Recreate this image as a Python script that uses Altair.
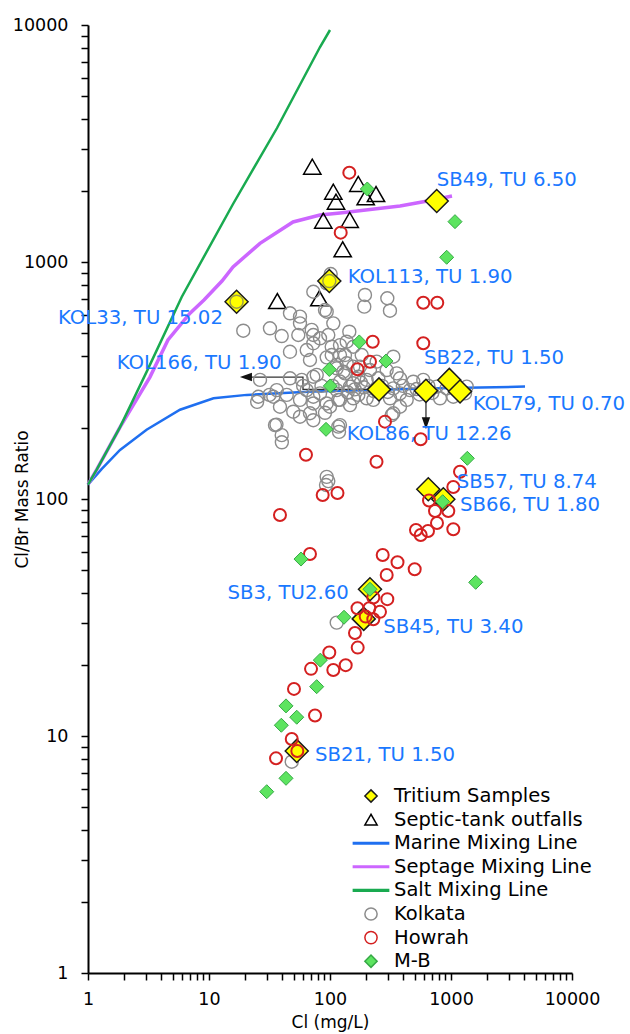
import altair as alt
import pandas as pd

FONT = "DejaVu Sans"
BLUE_TXT = "#1a78ff"

# ---------------- mixing lines (Cl mg/L, Cl/Br) ----------------
marine_cl = [1, 1.3, 1.84, 3.05, 5.76, 10.9, 20.5, 72.8, 300, 1000, 4090]
marine_ratio = [115, 134, 161, 196, 238, 266, 275, 284, 290, 294, 298]

septage_cl = [1, 1.18, 1.84, 3.25, 4.58, 6.97, 9.09, 12.8, 15.8, 26.4, 49.5, 82.7, 121, 379, 710, 1019]
septage_ratio = [115, 133, 201, 327, 469, 608, 691, 831, 953, 1199, 1475, 1578, 1610, 1723, 1827, 1899]

salt_cl = [1, 1.18, 1.84, 3.05, 5.95, 15.8, 36.5, 82.7, 100]
salt_ratio = [115, 133, 201, 344, 712, 1757, 3676, 8075, 9526]

# ---------------- tritium samples ----------------
tritium_cl = [16.9, 98.7, 762, 254, 621, 968, 1187, 649, 864, 214, 190, 53.1]
tritium_ratio = [680, 831, 1808, 290, 286, 318, 284, 110, 99.7, 41.6, 31.2, 8.65]

label_text = ["KOL33, TU 15.02", "KOL113, TU 1.90", "SB49, TU 6.50", "KOL166, TU 1.90",
              "KOL86, TU 12.26", "SB22, TU 1.50", "KOL79, TU 0.70", "SB57, TU 8.74",
              "SB66, TU 1.80", "SB3, TU2.60", "SB45, TU 3.40", "SB21, TU 1.50"]
label_cl = [0.565, 140, 762, 1.726, 137.4, 598, 1511, 1115, 1187, 14.2, 275.8, 75.2]
label_ratio = [580, 867, 2218, 374, 187.5, 392, 251.8, 118.3, 94.3, 40.0, 28.9, 8.32]

# arrows attached to KOL166 (left) and KOL86 (down)
arrow_left_cl = [254, 59.8, 59.8, 21.5]
arrow_left_ratio = [290, 290, 327, 327]
arrow_down_cl = [621, 621]
arrow_down_ratio = [286, 218]
head_left_cl = [20.2]
head_left_ratio = [327]
head_down_cl = [621]
head_down_ratio = [209]

# ---------------- septic-tank outfalls ----------------
septic_cl = [71.4, 106.5, 112.1, 171.3, 197.2, 240, 88.0, 145.5, 127.3, 36.7, 81.6]
septic_ratio = [2525, 1980, 1796, 2134, 1875, 1936, 1494, 1504, 1131, 684, 703]

# ---------------- M-B ----------------
mb_cl = [203.3, 1079, 921, 174.6, 98.7, 100.6, 92.7, 290, 1364, 854, 57.6, 1600, 214,
         130.6, 83.2, 77.6, 43.3, 53.1, 39.6, 43.3, 30.0]
mb_ratio = [2033, 1480, 1047, 460, 352, 300, 196.8, 382, 148.5, 97.4, 55.8, 44.5, 41.6,
            31.7, 20.9, 16.15, 13.4, 12.0, 11.1, 6.63, 5.82]

# ---------------- Howrah ----------------
howrah_cl = [144.4, 122.6, 590, 770, 225.4, 590, 214, 168.8, 284.7, 561.8, 63.3, 242.3,
             1187, 1045, 87.0, 115.3, 38.6, 658, 737.6, 950, 766, 513.6, 561.8, 645.5,
             1045, 68.3, 272.6, 361.3, 501, 294.1, 297.6, 228, 168.8, 211.3, 258.9, 197.2,
             228, 160.9, 169.4, 98.7, 69.7, 106.5, 134.8, 50.4, 75.2, 48.3, 53.7, 35.8]
howrah_ratio = [2382, 1330, 673, 673, 461, 454, 379.6, 352.7, 212, 178.6, 153.8, 143.7,
                130.4, 112.4, 104.0, 106.0, 85.6, 98.6, 89.0, 89.0, 79.2, 74.0, 70.5, 73.3,
                74.5, 58.6, 58.0, 54.1, 50.5, 47.8, 37.8, 38.4, 34.6, 34.6, 33.4, 31.9,
                31.1, 27.2, 23.6, 22.5, 19.2, 19.0, 19.9, 15.8, 12.2, 9.71, 8.64, 8.05]

# ---------------- Kolkata ----------------
kolkata_cl = [101.3, 93.9, 72.8, 90.9, 194.6, 192, 297.6, 313, 46.7, 56.5, 93.9, 31.9,
              19.2, 39.9, 56.5, 54.7, 72.8, 72.8, 106.5, 96.8, 144.4, 137.4, 103.3, 46.7,
              68.3, 93.9, 120.9, 137.4, 113.6, 133, 177, 201, 155.8, 120.9, 72.8, 58.4,
              46.7, 36.3, 26.4, 25.6, 34.0, 43.9, 56.5, 72.8, 93.9, 117.1, 155.8, 201,
              38.6, 49.7, 68.3, 90.9, 56.5, 72.8, 117.1, 35.1, 39.9, 93.9, 96.8, 70.6,
              82.7, 120.9, 155.8, 64.2, 103.3, 133, 182.8, 333.6, 243, 113.6, 155.8, 214,
              294, 356, 128.8, 77.7, 171.3, 250.7, 378.8, 488, 590, 762, 921, 458, 378.8,
              333.6, 146.3, 113.6, 82.7, 64.2, 171.3, 228, 313, 430.5, 811, 1045, 1305,
              1349, 120.9, 72.8, 100, 146.3, 333.6, 378.8, 120.9, 323.6, 92.7, 25, 31.6,
              36.1, 40, 118.7, 113.6, 48.3,
              105, 160, 190, 270, 400, 520, 650, 700, 230, 140, 180, 85, 60, 550, 300]
kolkata_ratio = [890, 813, 749, 627, 726, 648, 703, 623, 607.5, 588, 617, 525,
                 513, 487, 551, 492, 492, 454, 551, 492, 508, 461, 439, 418,
                 386, 396, 405, 374, 356, 339, 362, 318, 308, 313, 328, 318,
                 323, 288, 318, 270, 270, 275, 262, 270, 253, 262, 266, 266,
                 245, 233.5, 230, 231, 222.5, 215, 202, 205, 186, 124, 119, 517,
                 476.5, 446, 439, 425, 405, 405, 405, 398.5, 380, 368, 362, 350,
                 350, 339, 344.5, 334, 328, 323, 323, 312.6, 318, 298, 293, 288, 279,
                 293, 298, 288, 279, 288, 275, 262, 266, 262, 266, 270, 279,
                 298, 262, 253, 245, 249, 230, 245, 205, 226, 114.6, 257, 275,
                 206, 173.5, 192, 30.1, 7.79,
                 300, 290, 296, 300, 300, 291, 300, 280, 285, 282, 310, 300, 300, 276, 283]
kolkata_top_cl = [16.9, 98.7]
kolkata_top_ratio = [680, 831]

# ---------------- legend ----------------
series = ["Tritium Samples", "Septic-tank outfalls", "Marine Mixing Line",
          "Septage Mixing Line", "Salt Mixing Line", "Kolkata", "Howrah", "M-B"]

C_MARINE = "#1f6ff0"
C_SEPTAGE = "#cc66ff"
C_SALT = "#19aa50"
C_GRAY = "#8c8c8c"
C_RED = "#d42020"
C_MB_FILL = "#5de460"
C_MB_STROKE = "#35a845"
C_YELLOW = "#ffff00"

xscale = alt.Scale(type="log", domain=[1, 10000], nice=False)
yscale = alt.Scale(type="log", domain=[1, 10000], nice=False)
tick_values = [m * 10 ** e for e in range(4) for m in range(1, 10)] + [10000]
label_expr = "indexof([1, 10, 100, 1000, 10000], datum.value) >= 0 ? '' + datum.value : ''"

common_axis = dict(values=tick_values, labelExpr=label_expr, grid=False,
                   domainColor="black", domainWidth=2, tickColor="black", tickWidth=1.5,
                   tickSize=7, labelFont=FONT, labelFontSize=17.5, labelColor="black",
                   labelFlush=False, labelOverlap=False, titleFont=FONT, titleFontSize=17,
                   titleFontWeight="normal", titleColor="black", titleBaseline="middle")
xaxis = alt.Axis(title="Cl (mg/L)", labelPadding=10, titleY=49, **common_axis)
yaxis = alt.Axis(title="Cl/Br Mass Ratio", labelPadding=13, titleX=-66, **common_axis)


def xy():
    return dict(x=alt.X("cl:Q", scale=xscale, axis=xaxis),
                y=alt.Y("ratio:Q", scale=yscale, axis=yaxis))


def df(cl, ratio, **extra):
    d = {"cl": cl, "ratio": ratio}
    d.update(extra)
    return pd.DataFrame(d)


marine = alt.Chart(df(marine_cl, marine_ratio)).mark_line(color=C_MARINE, strokeWidth=2.5).encode(**xy())
septage = alt.Chart(df(septage_cl, septage_ratio)).mark_line(color=C_SEPTAGE, strokeWidth=3.5).encode(**xy())
salt = alt.Chart(df(salt_cl, salt_ratio)).mark_line(color=C_SALT, strokeWidth=2.5).encode(**xy())

arrow_left = alt.Chart(df(arrow_left_cl, arrow_left_ratio, i=list(range(len(arrow_left_cl))))).mark_line(
    color="#333333", strokeWidth=1.3).encode(**xy(), order="i:Q")
arrow_down = alt.Chart(df(arrow_down_cl, arrow_down_ratio, i=list(range(len(arrow_down_cl))))).mark_line(
    color="#333333", strokeWidth=1.3).encode(**xy(), order="i:Q")
head_left = alt.Chart(df(head_left_cl, head_left_ratio)).mark_point(
    shape="M-2,0L2,-1.4L2,1.4Z", size=36, filled=True, color="#111111", opacity=1).encode(**xy())
head_down = alt.Chart(df(head_down_cl, head_down_ratio)).mark_point(
    shape="M0,2L-1.4,-2L1.4,-2Z", size=36, filled=True, color="#111111", opacity=1).encode(**xy())

septic = alt.Chart(df(septic_cl, septic_ratio)).mark_point(
    shape="triangle-up", size=300, filled=False, color="black", strokeWidth=1.5, opacity=1).encode(**xy())
kolkata = alt.Chart(df(kolkata_cl, kolkata_ratio)).mark_point(
    shape="circle", size=169, filled=False, color=C_GRAY, strokeWidth=1.4, opacity=1).encode(**xy())
tritium = alt.Chart(df(tritium_cl, tritium_ratio)).mark_point(
    shape="diamond", size=529, filled=True, fill=C_YELLOW, stroke="#1a1a1a", strokeWidth=1.5,
    opacity=1).encode(**xy())
howrah = alt.Chart(df(howrah_cl, howrah_ratio)).mark_point(
    shape="circle", size=144, filled=False, color=C_RED, strokeWidth=2, opacity=1).encode(**xy())
mb = alt.Chart(df(mb_cl, mb_ratio)).mark_point(
    shape="diamond", size=196, filled=True, fill=C_MB_FILL, stroke=C_MB_STROKE, strokeWidth=1,
    opacity=1).encode(**xy())
kolkata_top = alt.Chart(df(kolkata_top_cl, kolkata_top_ratio)).mark_point(
    shape="circle", size=169, filled=False, color="#9a9a50", strokeWidth=1.4, opacity=1).encode(**xy())

labels = alt.Chart(df(label_cl, label_ratio, label=label_text)).mark_text(
    align="left", baseline="middle", font=FONT, fontSize=19.7, color=BLUE_TXT).encode(
    **xy(), text="label:N")

RECT = "M-3,-0.25H3V0.25H-3Z"
leg = alt.Legend(title=None, orient="none", legendX=273.25, legendY=761.25, symbolSize=150,
                 symbolStrokeWidth=1.5, labelFont=FONT, labelFontSize=19.5, labelColor="black",
                 labelOffset=13.25, rowPadding=2.6, padding=0, symbolOpacity=1, labelLimit=0)
legend_layer = alt.Chart(pd.DataFrame({"series": series})).mark_point(opacity=0).encode(
    fill=alt.Fill("series:N", legend=leg, scale=alt.Scale(
        domain=series,
        range=[C_YELLOW, "transparent", C_MARINE, C_SEPTAGE, C_SALT, "transparent", "transparent", C_MB_FILL])),
    stroke=alt.Stroke("series:N", legend=leg, scale=alt.Scale(
        domain=series,
        range=["#1a1a1a", "black", "transparent", "transparent", "transparent", C_GRAY, C_RED, C_MB_STROKE])),
    shape=alt.Shape("series:N", legend=leg, scale=alt.Scale(
        domain=series,
        range=["diamond", "triangle-up", RECT, RECT, RECT, "circle", "circle", "diamond"])),
)

chart = alt.layer(
    marine, septage, salt, arrow_left, arrow_down, septic, kolkata, tritium,
    head_left, head_down, howrah, mb, kolkata_top, labels, legend_layer
).properties(
    width=484, height=948,
    padding={"left": 88, "top": 25, "right": 58, "bottom": 61},
    autosize=alt.AutoSizeParams(type="none"),
    background="white",
).configure(font=FONT).configure_view(strokeWidth=0)

chart.save("out.html", embed_options={"renderer": "svg", "actions": False})
